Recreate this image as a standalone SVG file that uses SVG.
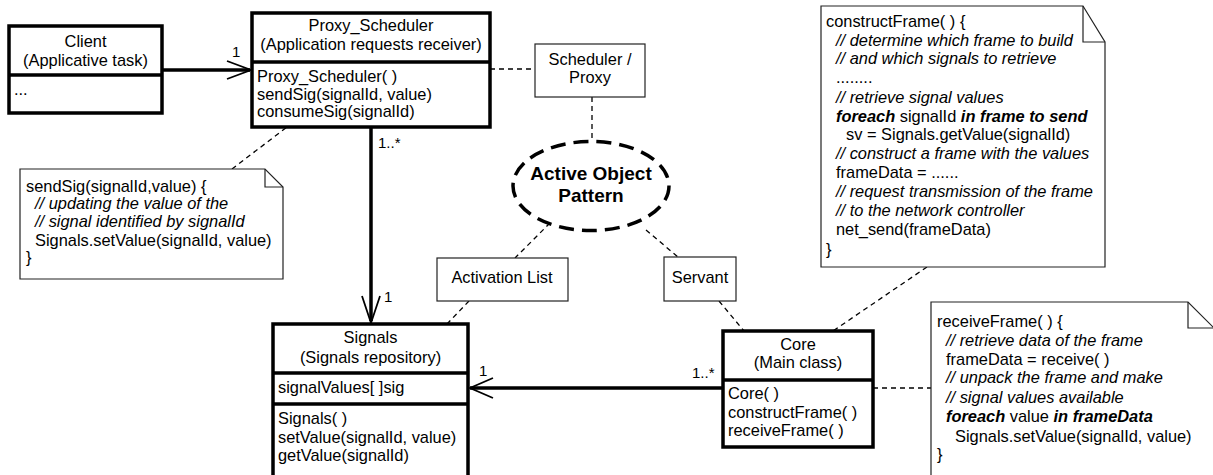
<svg xmlns="http://www.w3.org/2000/svg" width="1213" height="475" viewBox="0 0 1213 475">
<style>
text{font-family:"Liberation Sans",Arial,sans-serif;font-size:16.4px;fill:#000}
.c{text-anchor:middle}
.i{font-style:italic}
.bi{font-style:italic;font-weight:bold}
.lbl{font-size:15px}
.cls{fill:#fff;stroke:#000;stroke-width:3.5}
.div{stroke:#000;stroke-width:3.5;fill:none}
.box{fill:#fff;stroke:#222;stroke-width:1.2}
.note{fill:#fff;stroke:#222;stroke-width:1.2}
.fold{fill:none;stroke:#222;stroke-width:1.2}
.dash{stroke:#000;stroke-width:1.3;stroke-dasharray:5,4;fill:none}
.assoc{stroke:#000;stroke-width:3.5;fill:none}
.head{stroke:#000;stroke-width:1.8;fill:none}
</style>
<g id="connectors">
  <line class="dash" x1="490" y1="69" x2="535" y2="69"/>
  <line class="dash" x1="592" y1="97" x2="592" y2="142"/>
  <line class="dash" x1="550" y1="223" x2="515" y2="258"/>
  <line class="dash" x1="646" y1="230" x2="678" y2="257"/>
  <line class="dash" x1="469" y1="301" x2="447" y2="324"/>
  <line class="dash" x1="719" y1="301" x2="744" y2="331"/>
  <line class="dash" x1="927" y1="267" x2="833" y2="331"/>
  <line class="dash" x1="873" y1="388" x2="931" y2="388"/>
  <line class="dash" x1="232" y1="169" x2="287" y2="127"/>
  <line class="assoc" x1="162" y1="70" x2="250" y2="70"/>
  <polyline class="head" points="227,61 251,70 227,79"/>
  <text class="lbl" x="232" y="57">1</text>
  <line class="assoc" x1="371" y1="127" x2="371" y2="321"/>
  <polyline class="head" points="362,296 371,323 380,296"/>
  <text class="lbl" x="378" y="148">1..*</text>
  <text class="lbl" x="384" y="302">1</text>
  <line class="assoc" x1="470" y1="388" x2="723" y2="388"/>
  <polyline class="head" points="493,378 470,388 493,398"/>
  <text class="lbl" x="479" y="376">1</text>
  <text class="lbl" x="692" y="378">1..*</text>
</g>
<g id="client">
  <rect class="cls" x="9" y="26" width="153" height="87"/>
  <line class="div" x1="9" y1="75" x2="162" y2="75"/>
  <text class="c" x="85.5" y="47">Client</text>
  <text class="c" x="85.5" y="66">(Applicative task)</text>
  <text x="14" y="95">...</text>
</g>
<g id="proxy-scheduler">
  <rect class="cls" x="252" y="13" width="238" height="114"/>
  <line class="div" x1="252" y1="62" x2="490" y2="62"/>
  <text class="c" x="371" y="31">Proxy_Scheduler</text>
  <text class="c" x="371" y="50">(Application requests receiver)</text>
  <text x="257" y="82">Proxy_Scheduler( )</text>
  <text x="257" y="100">sendSig(signalId, value)</text>
  <text x="257" y="117">consumeSig(signalId)</text>
</g>
<g id="scheduler-proxy">
  <rect class="box" x="535" y="44" width="110" height="53"/>
  <text class="c" x="590" y="65">Scheduler /</text>
  <text class="c" x="590" y="83">Proxy</text>
</g>
<g id="active-object-pattern">
  <ellipse cx="591" cy="186" rx="78" ry="44.5" fill="#fff" stroke="#000" stroke-width="3.5" stroke-dasharray="15,8"/>
  <text class="c" x="591" y="180" style="font-weight:bold;font-size:19px">Active Object</text>
  <text class="c" x="591" y="202" style="font-weight:bold;font-size:19px">Pattern</text>
</g>
<g id="activation-list">
  <rect class="box" x="437" y="258" width="131" height="43"/>
  <text class="c" x="502" y="283">Activation List</text>
</g>
<g id="servant">
  <rect class="box" x="664" y="257" width="72" height="44"/>
  <text class="c" x="700" y="283">Servant</text>
</g>
<g id="signals">
  <rect class="cls" x="273" y="324" width="195" height="153"/>
  <line class="div" x1="273" y1="373" x2="468" y2="373"/>
  <line class="div" x1="273" y1="404" x2="468" y2="404"/>
  <text class="c" x="370.5" y="343">Signals</text>
  <text class="c" x="370.5" y="363">(Signals repository)</text>
  <text x="278" y="393">signalValues[  ]sig</text>
  <text x="278" y="424">Signals( )</text>
  <text x="278" y="443">setValue(signalId, value)</text>
  <text x="278" y="461">getValue(signalId)</text>
</g>
<g id="core">
  <rect class="cls" x="723" y="331" width="150" height="116"/>
  <line class="div" x1="723" y1="380" x2="873" y2="380"/>
  <text class="c" x="798" y="350">Core</text>
  <text class="c" x="798" y="368">(Main class)</text>
  <text x="728" y="399">Core( )</text>
  <text x="728" y="418">constructFrame( )</text>
  <text x="728" y="436">receiveFrame( )</text>
</g>
<g id="note-sendsig">
  <path class="note" d="M20,169 H265 L283,187 V279 H20 Z"/>
  <path class="fold" d="M265,169 V187 H283"/>
  <text x="26" y="192">sendSig(signalId,value) {</text>
  <text class="i" x="35" y="209">// updating the value of the</text>
  <text class="i" x="35" y="227">// signal identified by signalId</text>
  <text x="35" y="246">Signals.setValue(signalId, value)</text>
  <text x="26" y="263">}</text>
</g>
<g id="note-constructframe">
  <path class="note" d="M821,6 H1083 L1105,42 V267 H821 Z"/>
  <path class="fold" d="M1083,6 V42 H1105"/>
  <text x="826" y="27">constructFrame( ) {</text>
  <text class="i" x="836" y="46">// determine which frame to build</text>
  <text class="i" x="836" y="64">// and which signals to retrieve</text>
  <text x="836" y="83">........</text>
  <text class="i" x="836" y="103">// retrieve signal values</text>
  <text x="836" y="122"><tspan class="bi">foreach</tspan> signalId <tspan class="bi">in frame to send</tspan></text>
  <text x="846" y="140">sv = Signals.getValue(signalId)</text>
  <text class="i" x="836" y="159">// construct a frame with the values</text>
  <text x="836" y="178">frameData = ......</text>
  <text class="i" x="836" y="197">// request transmission of the frame</text>
  <text class="i" x="836" y="216">// to the network controller</text>
  <text x="836" y="235">net_send(frameData)</text>
  <text x="826" y="255">}</text>
</g>
<g id="note-receiveframe">
  <path class="note" d="M931,302 H1188 L1214,328 V477 H931 Z"/>
  <path class="fold" d="M1188,302 V328 H1214"/>
  <text x="937" y="327">receiveFrame( ) {</text>
  <text class="i" x="946" y="346">// retrieve data of the frame</text>
  <text x="946" y="365">frameData = receive( )</text>
  <text class="i" x="946" y="383">// unpack the frame and make</text>
  <text class="i" x="946" y="403">// signal values available</text>
  <text x="946" y="422"><tspan class="bi">foreach</tspan> value <tspan class="bi">in frameData</tspan></text>
  <text x="955" y="442">Signals.setValue(signalId, value)</text>
  <text x="937" y="460">}</text>
</g>
</svg>
